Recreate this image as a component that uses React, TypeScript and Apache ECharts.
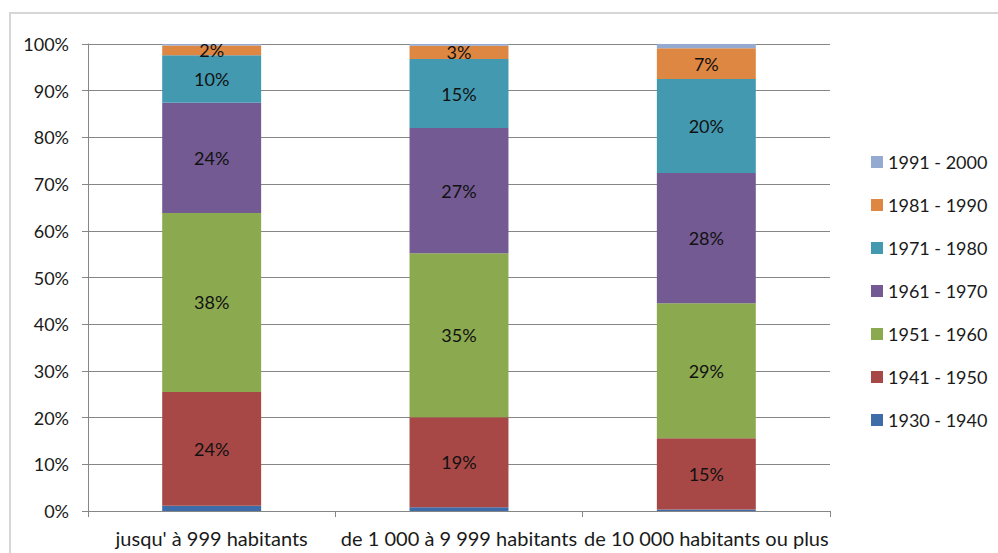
import React, { useEffect, useRef } from "react";
import * as echarts from "echarts";

const categories = ["jusqu' à 999 habitants", "de 1 000 à 9 999 habitants", "de 10 000 habitants ou plus"];
const seriesNames = ["1930 - 1940", "1941 - 1950", "1951 - 1960", "1961 - 1970", "1971 - 1980", "1981 - 1990", "1991 - 2000"];
const v1930 = [1.1, 0.8, 0.3];
const v1941 = [24.4, 19.3, 15.3];
const v1951 = [38.3, 35.1, 28.9];
const v1961 = [23.6, 26.8, 27.9];
const v1971 = [10.2, 14.8, 20.1];
const v1981 = [2.1, 2.8, 6.6];
const v1991 = [0.3, 0.4, 0.9];
const seriesValues = [v1930, v1941, v1951, v1961, v1971, v1981, v1991];
const showLabel = [false, true, true, true, true, true, false];
const colors = ["#3E6CA8", "#A84846", "#8BA94F", "#735A92", "#4399B0", "#DE8743", "#94AAD0"];
const yTicks = [0, 10, 20, 30, 40, 50, 60, 70, 80, 90, 100];

const FONT = "Lato, 'Noto Sans', sans-serif";

export default function App() {
  const ref = useRef<HTMLDivElement>(null);
  useEffect(() => {
    if (!ref.current) return;
    const chart = echarts.init(ref.current, null, { renderer: "svg" });
    const option: any = {
      animation: false,
      backgroundColor: "#ffffff",
      textStyle: { fontFamily: FONT },
      graphic: [
        {
          type: "rect",
          shape: { x: 10, y: 13, width: 1000, height: 560 },
          style: { fill: "none", stroke: "#d6d6d6", lineWidth: 2 },
          silent: true,
          z: -10,
        },
      ],
      grid: { left: 88, right: 168, top: 44, bottom: 42, containLabel: false },
      legend: {
        orient: "vertical",
        left: 871,
        top: 153,
        padding: 0,
        itemWidth: 12,
        itemHeight: 12,
        itemGap: 25,
        icon: "rect",
        data: [...seriesNames].reverse(),
        textStyle: { fontSize: 18, color: "#1a1a1a", fontFamily: FONT },
      },
      xAxis: {
        type: "category",
        data: categories,
        boundaryGap: true,
        axisLine: { lineStyle: { color: "#868686", width: 1 } },
        axisTick: { show: true, length: 6, alignWithLabel: false, lineStyle: { color: "#868686" } },
        axisLabel: { fontSize: 20, color: "#1a1a1a", margin: 17, fontFamily: FONT, interval: 0 },
      },
      yAxis: {
        type: "value",
        min: 0,
        max: 100,
        interval: 10,
        axisLine: { show: true, lineStyle: { color: "#868686", width: 1 } },
        axisTick: { show: true, length: 6, lineStyle: { color: "#868686" } },
        splitLine: { show: true, lineStyle: { color: "#868686", width: 1 } },
        axisLabel: {
          fontSize: 18,
          color: "#1a1a1a",
          margin: 19,
          fontFamily: FONT,
          formatter: (v: number) => (yTicks.includes(v) ? v + "%" : ""),
        },
      },
      series: seriesNames.map((name, i) => ({
        name,
        type: "bar",
        stack: "total",
        barWidth: "40%",
        data: seriesValues[i],
        itemStyle: { color: colors[i] },
        label: {
          show: showLabel[i],
          position: "inside",
          fontSize: 18,
          color: "#111111",
          fontFamily: FONT,
          formatter: (p: any) => Math.round(p.value) + "%",
        },
      })),
    };
    chart.setOption(option);
    return () => chart.dispose();
  }, []);
  return (
    <div
      ref={ref}
      style={{ position: "fixed", left: 0, top: 0, width: 998, height: 553 }}
    />
  );
}
